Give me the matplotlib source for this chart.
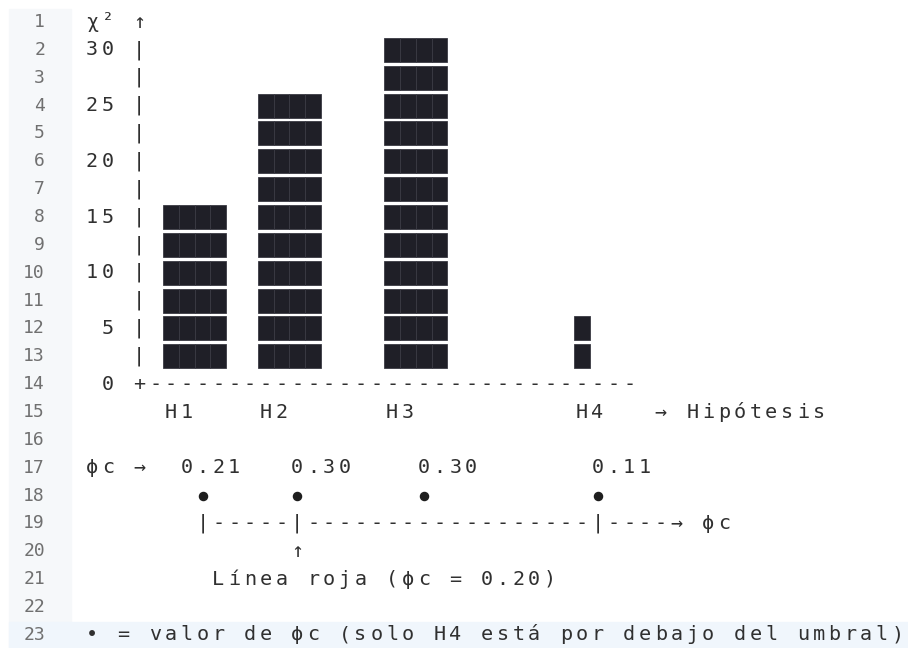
import matplotlib
matplotlib.use("Agg")
import matplotlib.pyplot as plt
from matplotlib.patches import Rectangle

# data
hypotheses = ["H1", "H2", "H3", "H4"]
chi2 = [15, 25, 30, 5]
phi_c = [0.21, 0.30, 0.30, 0.11]
phi_threshold = 0.20
y_ticks = [30, 25, 20, 15, 10, 5, 0]

# layout of the text grid (pixels)
W, H = 908, 648
X0, CW = 84, 15.8          # first code column, cell width
Y0, LH = 22, 27.86         # centre of line 1, line height
N_LINES = 23
ZERO_ROW = 14              # line where chi2 = 0
PER_ROW = 2.5              # chi2 units per line

bar_cols = [5, 11, 19, 31]     # first column of each bar / label
bar_width = [4, 4, 4, 1]
phi_cols = [6, 13, 21, 32]
dot_cols = [7, 13, 21, 32]
seg_cols = [7, 13, 32]

TXT = "#303030"
NUM = "#707070"
FONT = ["DejaVu Sans Mono", "DejaVu Sans"]
FS = 14.5

fig = plt.figure(figsize=(W / 100, H / 100), dpi=100)
ax = fig.add_axes([0, 0, 1, 1])
ax.set_xlim(-X0 / CW, (W - X0) / CW)
ax.set_ylim(1 + (H - Y0) / LH, 1 - Y0 / LH)
ax.axis("off")

# second axes with the chi2 scale for the bars
axb = fig.add_axes([0, 0, 1, 1])
axb.set_xlim(ax.get_xlim())
r_bot, r_top = ax.get_ylim()
axb.set_ylim((ZERO_ROW - r_bot) * PER_ROW, (ZERO_ROW - r_top) * PER_ROW)
axb.axis("off")
axb.patch.set_alpha(0)

# gutter and current-line highlight
px = lambda p: p / CW - X0 / CW
ax.add_patch(Rectangle((px(9), 1 - (Y0 - 9) / LH), (71 - 9) / CW, 40,
                       color="#f6f8fa", zorder=0))
ax.add_patch(Rectangle((px(9), N_LINES - 0.5 + 0.04), (W - 9) / CW, 2,
                       color="#f0f6fc", zorder=0))


def put(col, row, s, color=TXT):
    for i, ch in enumerate(s):
        if ch != " ":
            ax.text(col + i + 0.5, row, ch, ha="center", va="center",
                    family=FONT, fontsize=FS, color=color)


for n in range(1, N_LINES + 1):
    ax.text(px(45), n, str(n), ha="right", va="center", family=FONT,
            fontsize=FS - 1.5, color=NUM)

# y axis
put(0, 1, "χ² ↑")
for r in range(2, ZERO_ROW):
    put(3, r, "|")
for v in y_ticks:
    lab = str(v)
    for i, ch in enumerate(lab):
        axb.text(2 - len(lab) + i + 0.5, v, ch, ha="center", va="center",
                 family=FONT, fontsize=FS, color=TXT)
put(3, ZERO_ROW, "+" + "-" * 31)

# bars as stacks of block cells
block_h = PER_ROW * 24 / LH
for c0, w, val in zip(bar_cols, bar_width, chi2):
    n = int(round(val / PER_ROW))
    for k in range(1, n + 1):
        xs = [c0 + j + 0.5 for j in range(w)]
        axb.bar(xs, block_h, width=1.0, bottom=k * PER_ROW - block_h / 2,
                color="#1f1f27", edgecolor="#3a3a43", linewidth=0.6)

# category labels
for c0, h in zip(bar_cols, hypotheses):
    put(c0, ZERO_ROW + 1, h)
put(36, ZERO_ROW + 1, "→ Hipótesis")

# phi_c values
put(0, 17, "ϕc →")
for c0, p in zip(phi_cols, phi_c):
    put(c0, 17, f"{p:.2f}")
ax.scatter([c + 0.5 for c in dot_cols], [18] * len(dot_cols), s=34,
           color="#1e1e1e", zorder=3)

line = [" "] * 41
for c in range(seg_cols[0], seg_cols[-1] + 5):
    line[c] = "-"
for c in seg_cols:
    line[c] = "|"
line[seg_cols[-1] + 5] = "→"
put(0, 19, "".join(line).rstrip() + " ϕc")
put(13, 20, "↑")
put(8, 21, f"Línea roja (ϕc = {phi_threshold:.2f})")
put(0, 23, "• = valor de ϕc (solo H4 está por debajo del umbral)")

fig.savefig("out.png", dpi=100)
